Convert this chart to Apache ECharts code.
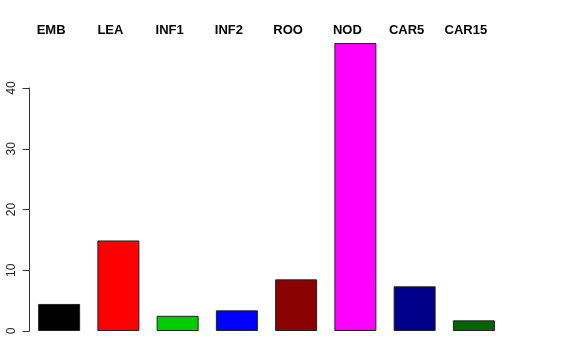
<!DOCTYPE html>
<html>
<head>
<meta charset="utf-8">
<script src="https://cdn.jsdelivr.net/npm/echarts@6/dist/echarts.min.js"></script>
<style>html,body{margin:0;padding:0;background:#fff;}#c{width:576px;height:360px;}</style>
</head>
<body>
<div id="c"></div>
<script>
const categories = ["EMB", "LEA", "INF1", "INF2", "ROO", "NOD", "CAR5", "CAR15"];
const values = [4.45, 14.9, 2.5, 3.4, 8.5, 47.4, 7.35, 1.75];
const barColors = ["#000000", "#FF0000", "#00CD00", "#0000FF", "#8B0000", "#FF00FF", "#00008B", "#006400"];
const yTicks = [0, 10, 20, 30, 40];

const chart = echarts.init(document.getElementById('c'), null, {renderer: 'canvas'});
chart.setOption({
  animation: false,
  backgroundColor: '#ffffff',
  textStyle: {fontFamily: 'Liberation Sans, Arial, sans-serif'},
  grid: {left: 29.5, width: 474, top: 88, bottom: 29, containLabel: false},
  xAxis: {
    type: 'category',
    position: 'top',
    data: categories,
    axisLine: {show: false},
    axisTick: {show: false},
    axisLabel: {
      margin: 51,
      color: '#000',
      fontWeight: 'bold',
      fontSize: 13,
      fontFamily: 'Liberation Sans, Arial, sans-serif',
      padding: [0, 16, 0, 0]
    }
  },
  yAxis: {
    type: 'value',
    min: yTicks[0],
    max: yTicks[yTicks.length - 1],
    interval: 10,
    splitLine: {show: false},
    axisLine: {show: true, lineStyle: {color: '#333', width: 1}},
    axisTick: {show: true, length: 7, lineStyle: {color: '#333', width: 1}},
    axisLabel: {
      rotate: 90,
      margin: 12,
      color: '#222',
      fontSize: 12,
      fontFamily: 'Liberation Sans, Arial, sans-serif'
    }
  },
  series: [{
    type: 'bar',
    clip: false,
    barWidth: 42,
    data: values.map((v, i) => ({
      value: v,
      itemStyle: {color: barColors[i], borderColor: '#222', borderWidth: 1}
    }))
  }]
});
</script>
</body>
</html>
